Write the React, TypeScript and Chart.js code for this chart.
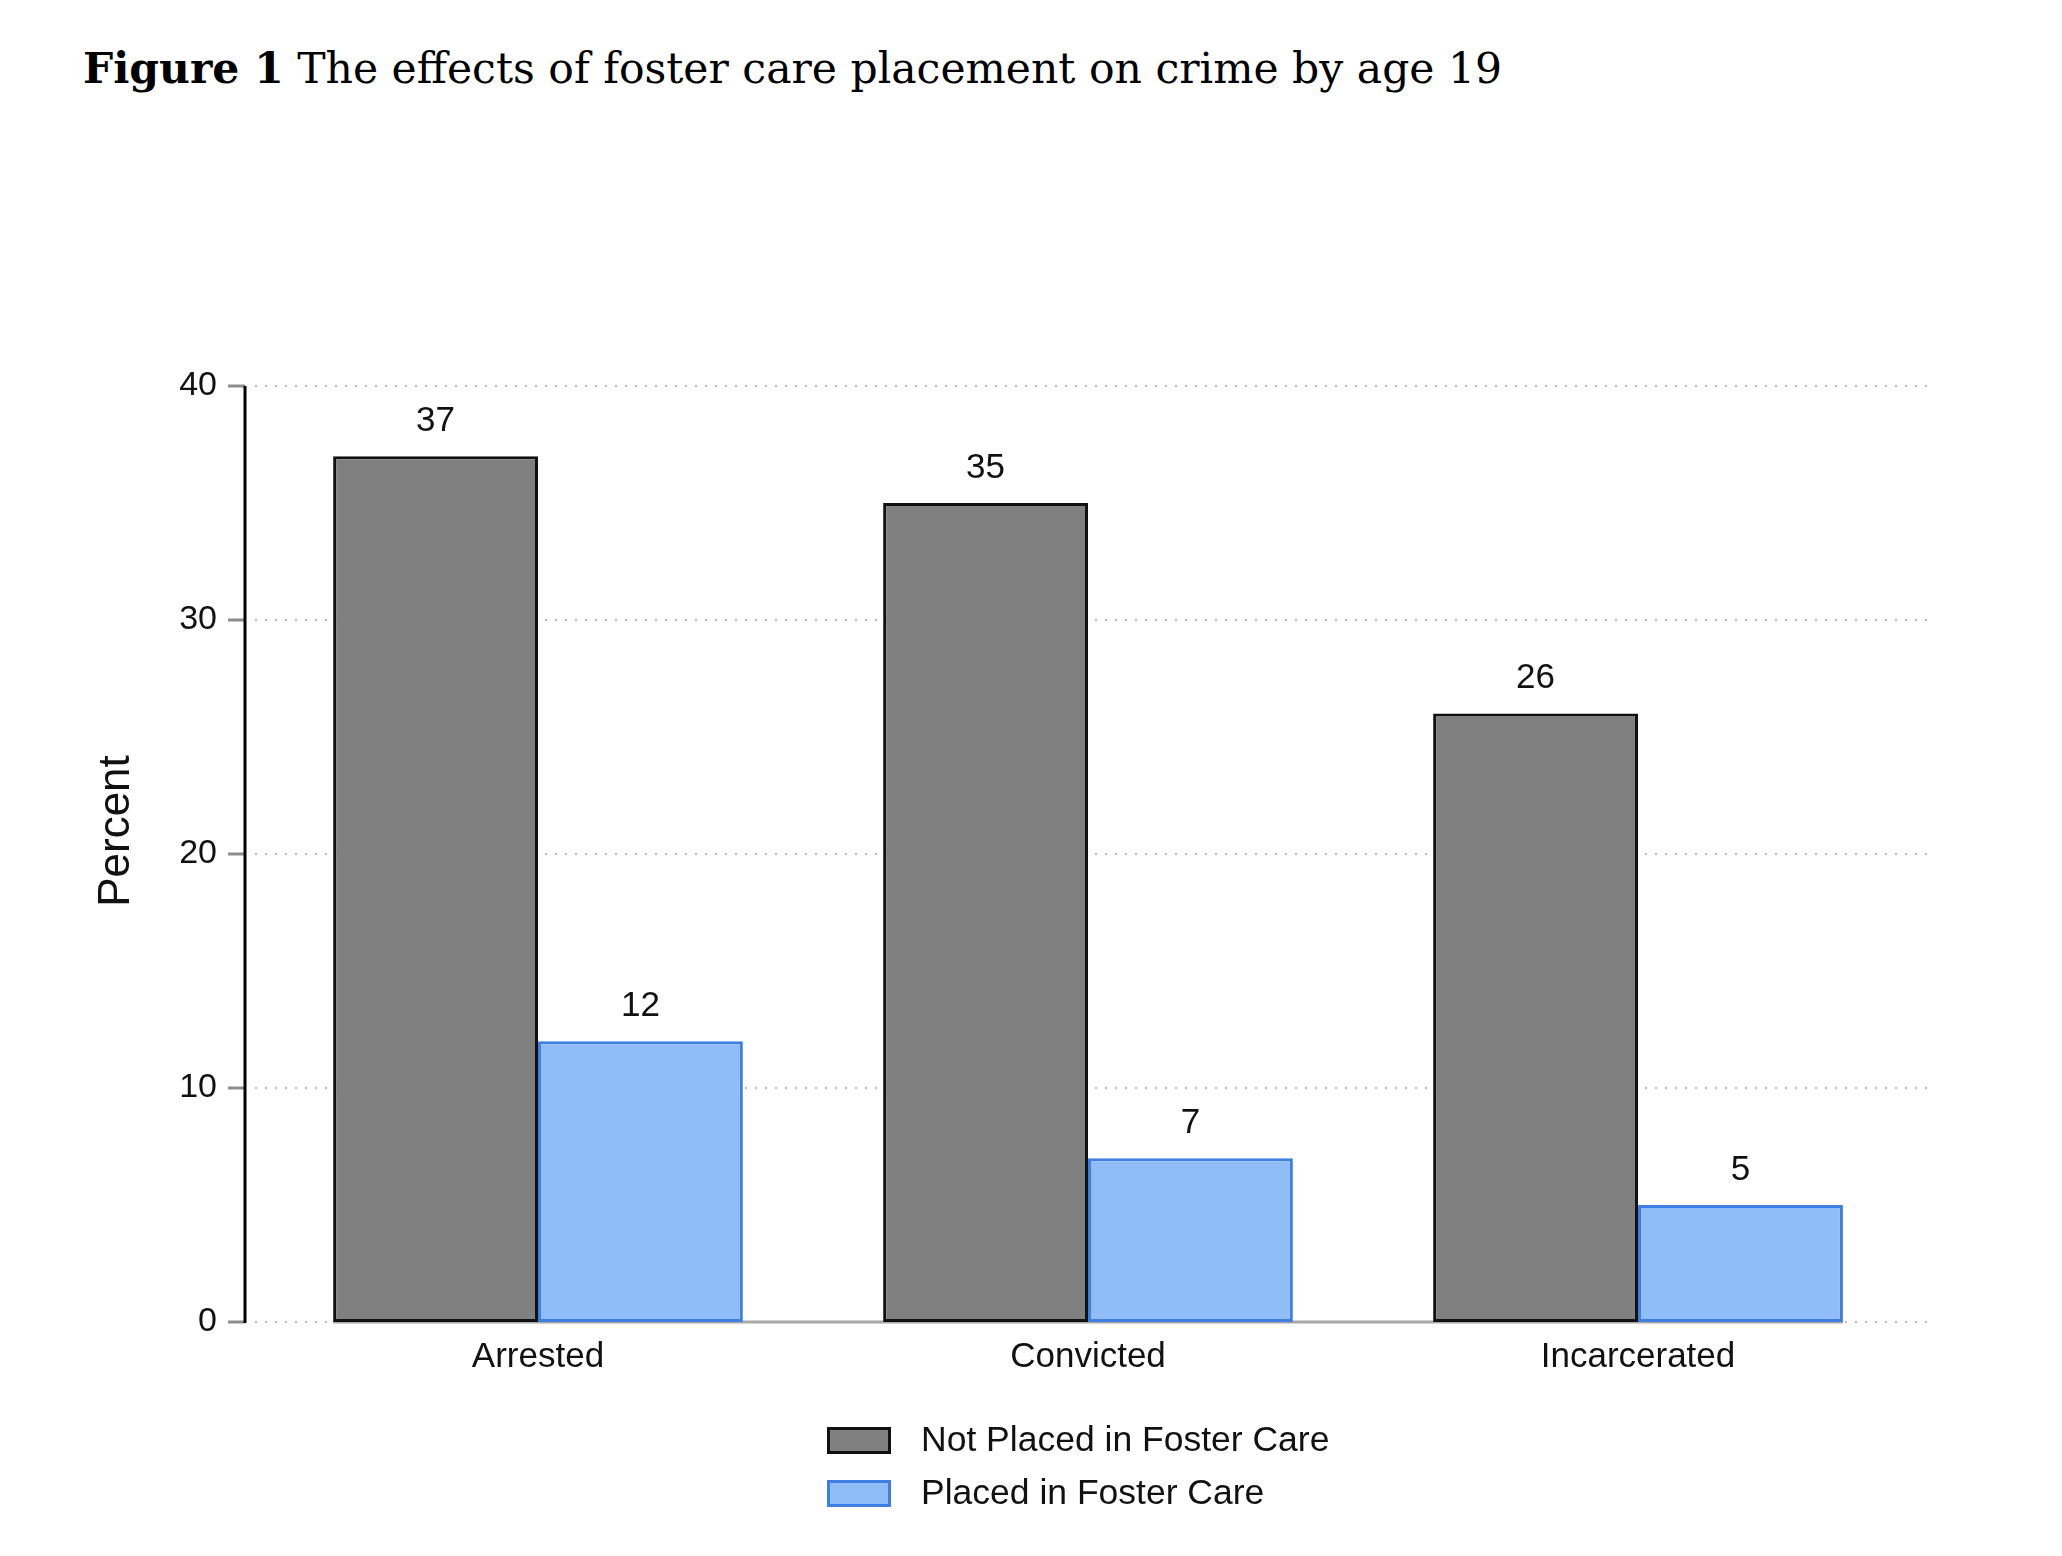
import React, { useEffect, useRef } from 'react';
import { Chart, registerables } from 'chart.js';

Chart.register(...registerables);

// data
const categories = ['Arrested', 'Convicted', 'Incarcerated'];
const notPlaced = [37, 35, 26];
const placed = [12, 7, 5];
const seriesLabels = ['Not Placed in Foster Care', 'Placed in Foster Care'];
const yTicks = [0, 10, 20, 30, 40];

const W = 2062;
const H = 1556;
const SANS = '"Liberation Sans", Arial, Helvetica, sans-serif';

// Stata-ish frame: y axis line, grey tick marks, dotted grid, bar baseline,
// value labels, rotated axis title and a hand laid legend.
const stataFrame = {
  id: 'stataFrame',
  beforeDatasetsDraw(chart: any) {
    const { ctx, chartArea, scales } = chart;
    const y = scales.y;
    const axisX = chartArea.left - 18;
    ctx.save();
    ctx.strokeStyle = '#b8b8b8';
    ctx.lineWidth = 2;
    ctx.setLineDash([2, 8]);
    for (const t of yTicks) {
      const py = Math.round(y.getPixelForValue(t));
      ctx.beginPath();
      ctx.moveTo(axisX + 10, py);
      ctx.lineTo(chartArea.right + 17, py);
      ctx.stroke();
    }
    ctx.setLineDash([]);

    // solid baseline spanning the bars
    const firstMeta = chart.getDatasetMeta(0);
    const lastMeta = chart.getDatasetMeta(chart.data.datasets.length - 1);
    const first = firstMeta.data[0];
    const last = lastMeta.data[lastMeta.data.length - 1];
    const y0 = y.getPixelForValue(0);
    ctx.strokeStyle = '#a8a8a8';
    ctx.lineWidth = 3;
    ctx.beginPath();
    ctx.moveTo(first.x - first.width / 2, y0);
    ctx.lineTo(last.x + last.width / 2, y0);
    ctx.stroke();
    ctx.restore();
  },
  afterDatasetsDraw(chart: any) {
    const { ctx } = chart;
    ctx.save();
    ctx.fillStyle = '#111';
    ctx.font = `35px ${SANS}`;
    ctx.textAlign = 'center';
    ctx.textBaseline = 'middle';
    chart.data.datasets.forEach((ds: any, i: number) => {
      chart.getDatasetMeta(i).data.forEach((bar: any, j: number) => {
        ctx.fillText(String(ds.data[j]), bar.x, bar.y - 35);
      });
    });
    ctx.restore();
  },
  afterDraw(chart: any) {
    const { ctx, chartArea, scales } = chart;
    const y = scales.y;
    const axisX = chartArea.left - 18;
    ctx.save();

    // tick marks
    ctx.strokeStyle = '#8c8c8c';
    ctx.lineWidth = 3;
    for (const t of yTicks) {
      const py = Math.round(y.getPixelForValue(t));
      ctx.beginPath();
      ctx.moveTo(axisX - 17, py);
      ctx.lineTo(axisX, py);
      ctx.stroke();
    }
    // axis line
    ctx.strokeStyle = '#000';
    ctx.lineWidth = 3;
    ctx.beginPath();
    ctx.moveTo(axisX, y.getPixelForValue(yTicks[yTicks.length - 1]));
    ctx.lineTo(axisX, y.getPixelForValue(0) + 1);
    ctx.stroke();

    // y title
    ctx.fillStyle = '#111';
    ctx.font = `44px ${SANS}`;
    ctx.textAlign = 'center';
    ctx.textBaseline = 'middle';
    ctx.translate(117, 831);
    ctx.rotate(-Math.PI / 2);
    ctx.fillText('Percent', 0, 0);
    ctx.setTransform(1, 0, 0, 1, 0, 0);

    // legend, two left aligned rows
    ctx.font = `35.5px ${SANS}`;
    ctx.textAlign = 'left';
    chart.data.datasets.forEach((ds: any, i: number) => {
      const top = 1427 + i * 53;
      ctx.fillStyle = ds.backgroundColor;
      ctx.fillRect(827, top, 64, 27);
      ctx.strokeStyle = ds.borderColor;
      ctx.lineWidth = 3;
      ctx.strokeRect(828.5, top + 1.5, 61, 24);
      ctx.fillStyle = '#111';
      ctx.fillText(ds.label, 921, top + 14);
    });
    ctx.restore();
  },
};

export default function App() {
  const canvasRef = useRef<HTMLCanvasElement | null>(null);
  const chartRef = useRef<Chart | null>(null);

  useEffect(() => {
    document.body.style.margin = '0';
    const canvas = canvasRef.current;
    if (!canvas) return;

    chartRef.current = new Chart(canvas, {
      type: 'bar',
      data: {
        labels: categories,
        datasets: [
          {
            label: seriesLabels[0],
            data: notPlaced,
            backgroundColor: '#808080',
            borderColor: '#111111',
            borderWidth: 3,
            borderSkipped: false,
          },
          {
            label: seriesLabels[1],
            data: placed,
            backgroundColor: '#90bcf8',
            borderColor: '#3f7fe3',
            borderWidth: 3,
            borderSkipped: false,
          },
        ],
      },
      options: {
        responsive: false,
        animation: false,
        devicePixelRatio: 1,
        layout: { padding: { top: 386, right: 149, left: 0, bottom: 0 } },
        datasets: { bar: { categoryPercentage: 0.745, barPercentage: 1 } },
        plugins: {
          legend: { display: false },
          tooltip: { enabled: false },
        },
        scales: {
          x: {
            grid: { display: false, drawTicks: false },
            border: { display: false },
            ticks: { color: '#111', font: { family: SANS, size: 35 }, padding: 14 },
            afterFit: (scale: any) => {
              scale.height = 234;
            },
          },
          y: {
            min: 0,
            max: 40,
            grid: { display: false, drawTicks: false },
            border: { display: false },
            ticks: {
              stepSize: 10,
              color: '#111',
              font: { family: SANS, size: 34 },
              padding: 46,
            },
            afterFit: (scale: any) => {
              scale.width = 263;
            },
          },
        },
      },
      plugins: [stataFrame],
    });

    return () => {
      chartRef.current?.destroy();
      chartRef.current = null;
    };
  }, []);

  return (
    <div style={{ position: 'relative', width: W, height: H, background: '#fff', overflow: 'hidden' }}>
      {/* Caption */}
      <div
        style={{
          position: 'absolute',
          left: 83,
          top: 40,
          fontFamily: '"DejaVu Serif", "Liberation Serif", serif',
          fontSize: 42.5,
          lineHeight: '56px',
          color: '#000',
          whiteSpace: 'nowrap',
        }}
      >
        <b>Figure 1</b> The effects of foster care placement on crime by age 19
      </div>
      <canvas ref={canvasRef} width={W} height={H} style={{ position: 'absolute', left: 0, top: 0 }} />
    </div>
  );
}
